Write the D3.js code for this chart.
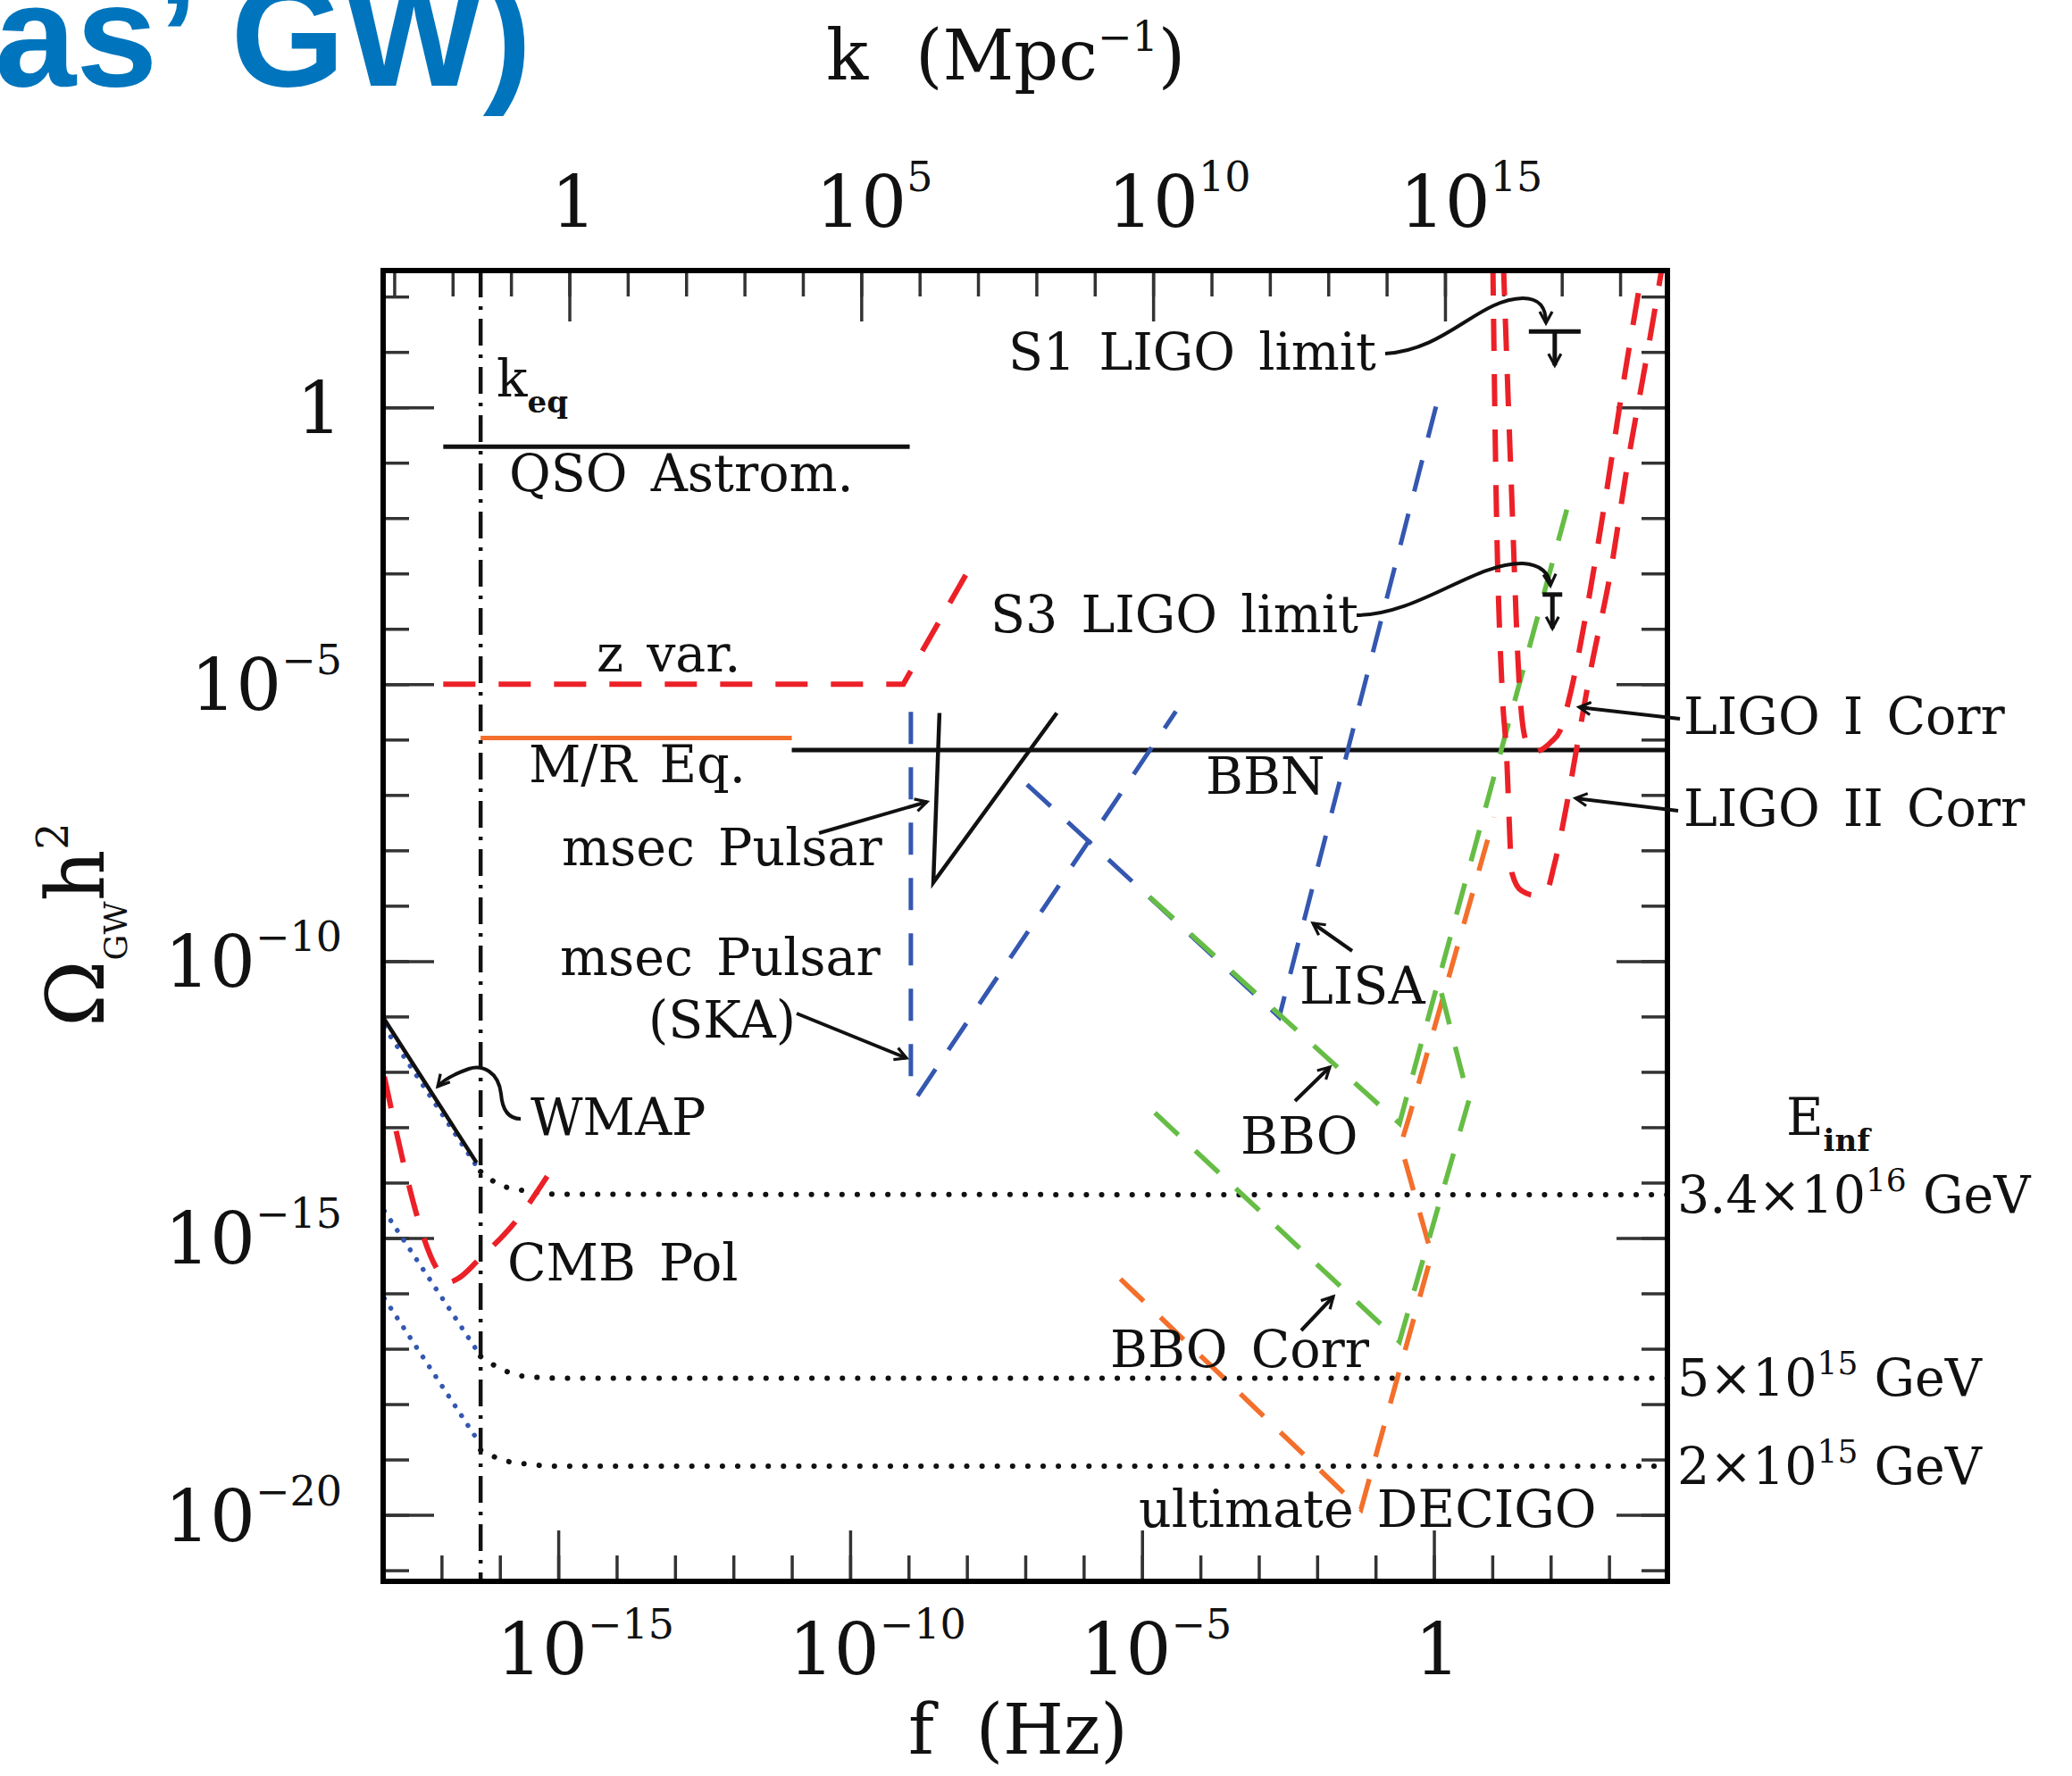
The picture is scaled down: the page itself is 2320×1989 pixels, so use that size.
<!DOCTYPE html>
<html lang="en">
<head>
<meta charset="UTF-8">
<title>Omega_GW h^2 limits</title>
<script src="https://cdn.jsdelivr.net/npm/d3@7"></script>
<style>
  body { margin: 0; padding: 0; background: #fff; }
  svg text { font-family: "DejaVu Serif", serif; fill: #111; }
  .lbl { font-size: 57px; }
  .title { font-family: "Liberation Sans", Arial, sans-serif; font-weight: bold; fill: #0075bd; }
</style>
</head>
<body>
<svg id="chart" width="2320" height="1989"></svg>
<script>
// all values are [log10 f/Hz, log10 Omega_GW h^2]
const fRange = [-18, 4];
const omegaRange = [-21.2, 2.47];
const logKperF = 14.81;          // log10 of k(Mpc^-1) per f(Hz)
const kEq = -16.33;              // log10 f at k_eq

const fLabelExp = [-15, -10, -5, 0];
const kLabelExp = [0, 5, 10, 15];
const omegaLabelExp = [0, -5, -10, -15, -20];

const qsoAstrom = [[-16.97, -0.71], [-8.98, -0.71]];
const zVar = [[-16.97, -5.0], [-9.09, -5.0], [-8.0, -2.99]];
const mrEq = [[-16.33, -5.97], [-11.0, -5.97]];
const bbn = [[-11.0, -6.19], [4, -6.19]];
const msecPulsar = [[-8.47, -5.52], [-8.575, -8.58], [-6.46, -5.52]];
const pulsarSKA = [[-8.96, -5.5], [-8.96, -12.25], [-8.855, -12.45], [-4.42, -5.49]];
const lisa = [[-6.97, -6.81], [-2.65, -11.01], [0.11, 0.32]];
const bbo = [[-4.87, -8.84], [-0.59, -12.93], [2.32, -1.68]];
const bboCorr = [[-4.78, -12.74], [-0.59, -16.87], [0.60, -12.51], [0.08, -10.38]];
const decigo = [[-5.37, -15.74], [-1.25, -19.90], [-0.04, -15.30], [-0.57, -13.32], [-0.42, -12.80], [1.03, -7.40]];
const ligoICorr = [[1.19, 2.6], [1.32, -1.23], [1.47, -5.14], [1.55, -5.92], [1.68, -6.23], [2.01, -6.04],
  [2.16, -5.84], [2.31, -5.29], [2.62, -3.65], [2.93, -1.70], [3.23, 0.34], [3.59, 2.6]];
const ligoIICorr = [[1.01, 2.6], [1.06, -1.23], [1.17, -5.14], [1.24, -6.19], [1.34, -8.42], [1.50, -8.73],
  [1.73, -8.81], [1.93, -8.73], [2.06, -8.27], [2.29, -7.09], [2.44, -6.19], [2.67, -4.83],
  [3.03, -2.95], [3.31, -1.07], [3.64, 0.88], [3.92, 2.6]];
const wmap = [[-17.98, -11.05], [-16.40, -13.64]];
const cmbPol = [[-17.98, -12.09], [-17.04, -15.62], [-16.88, -15.80], [-16.70, -15.72], [-16.38, -15.41],
  [-15.67, -14.62], [-15.13, -13.79]];

// inflation spectra: blue before k_eq, black after
const inflEnergies = ["3.4×10|16", "5×10|15", "2×10|15"];
const inflBlue = [
  [[-17.98, -11.19], [-16.35, -13.78]],
  [[-17.98, -14.51], [-16.35, -17.10]],
  [[-17.98, -16.09], [-16.35, -18.70]]
];
const inflBlack = [
  [[-16.33, -13.80], [-16.0, -14.04], [-15.48, -14.16], [-15.0, -14.21], [4, -14.22]],
  [[-16.33, -17.14], [-15.95, -17.38], [-15.56, -17.50], [-15.0, -17.53], [4, -17.53]],
  [[-16.33, -18.83], [-15.95, -19.01], [-15.56, -19.08], [-15.0, -19.12], [4, -19.12]]
];

const s1Limit = [2.07, 1.37];
const s3Limit = [2.03, -3.38];

const pL = 429, pR = 1867, pT = 303, pB = 1771;
const red = "#ec2027", blue = "#3457b0", green = "#66bd45", orange = "#f36f2b", ink = "#111";

const svg = d3.select("#chart");

const x = d3.scaleLog().domain(fRange.map(v => 10 ** v)).range([pL, pR]);
const k = d3.scaleLog().domain(fRange.map(v => 10 ** (v + logKperF))).range([pL, pR]);
const y = d3.scaleLog().domain(omegaRange.map(v => 10 ** v)).range([pB, pT]);

const line = d3.line().x(d => x(10 ** d[0])).y(d => y(10 ** d[1]));
const smooth = d3.line().curve(d3.curveMonotoneX).x(d => x(10 ** d[0])).y(d => y(10 ** d[1]));

const defs = svg.append("defs");
defs.append("clipPath").attr("id", "plot")
  .append("rect").attr("x", pL).attr("y", pT).attr("width", pR - pL).attr("height", pB - pT);
defs.append("marker").attr("id", "arr")
  .attr("markerUnits", "userSpaceOnUse").attr("markerWidth", 22).attr("markerHeight", 22)
  .attr("refX", 14).attr("refY", 8).attr("orient", "auto").attr("viewBox", "0 0 22 16")
  .append("path").attr("d", "M1,1 L14,8 L1,15").attr("fill", "none").attr("stroke", ink).attr("stroke-width", 3.2);

// title fragment
svg.append("text").attr("class", "title").attr("x", -6).attr("y", 96).attr("font-size", 164).text("as’ GW)");

// ticks
function ticks(gen, vals, len, tr) {
  svg.append("g").attr("transform", tr)
    .call(gen.tickValues(vals).tickSize(-len).tickFormat(""))
    .call(g => g.select(".domain").remove())
    .selectAll("line").attr("stroke", "#333").attr("stroke-width", 3.5);
}
const fDec = d3.range(-17, 4).map(e => 10 ** e);
const kDec = d3.range(-3, 19).map(e => 10 ** e);
const oDec = d3.range(-21, 3).map(e => 10 ** e);
ticks(d3.axisBottom(x), fDec, 29, `translate(0,${pB})`);
ticks(d3.axisBottom(x), fLabelExp.map(e => 10 ** e), 57, `translate(0,${pB})`);
ticks(d3.axisTop(k), kDec, 29, `translate(0,${pT})`);
ticks(d3.axisTop(k), kLabelExp.map(e => 10 ** e), 57, `translate(0,${pT})`);
ticks(d3.axisLeft(y), oDec, 29, `translate(${pL},0)`);
ticks(d3.axisLeft(y), omegaLabelExp.map(e => 10 ** e), 57, `translate(${pL},0)`);
ticks(d3.axisRight(y), oDec, 29, `translate(${pR},0)`);
ticks(d3.axisRight(y), omegaLabelExp.map(e => 10 ** e), 57, `translate(${pR},0)`);

// tick labels
function powLabel(g, e) {
  if (e === 0) { g.text("1"); return; }
  g.append("tspan").text("10");
  g.append("tspan").attr("font-size", 46).attr("dy", -40).text(String(e).replace("-", "−"));
}
omegaLabelExp.forEach(e => {
  const t = svg.append("text").attr("font-size", 80).attr("text-anchor", "end")
    .attr("x", 383).attr("y", y(10 ** e) + 29);
  powLabel(t, e);
});
fLabelExp.forEach(e => {
  const t = svg.append("text").attr("font-size", 80).attr("y", 1875);
  if (e === 0) t.attr("text-anchor", "middle").attr("x", x(1) + 4);
  else t.attr("x", x(10 ** e) - 69);
  powLabel(t, e);
});
kLabelExp.forEach(e => {
  const t = svg.append("text").attr("font-size", 80).attr("y", 254);
  if (e === 0) t.attr("text-anchor", "middle").attr("x", k(1) + 5);
  else t.attr("x", k(10 ** e) - 51);
  powLabel(t, e);
});

// axis titles
const kt = svg.append("text").attr("font-size", 78).attr("x", 925).attr("y", 89).attr("word-spacing", 28);
kt.append("tspan").text("k (Mpc");
kt.append("tspan").attr("font-size", 46).attr("dy", -32).text("−1");
kt.append("tspan").attr("dy", 32).text(")");
svg.append("text").attr("font-size", 78).attr("x", 1017).attr("y", 1964).attr("word-spacing", 22).text("f (Hz)");
const yt = svg.append("text").attr("font-size", 90).attr("transform", "translate(116,1150) rotate(-90)");
yt.append("tspan").text("Ω");
yt.append("tspan").attr("font-size", 36).attr("dy", 26).text("GW");
yt.append("tspan").attr("dy", -26).text("h");
yt.append("tspan").attr("font-size", 48).attr("dy", -40).text("2");

// curves
const plot = svg.append("g").attr("clip-path", "url(#plot)");
function draw(data, color, width, dash, gen) {
  plot.append("path").attr("d", (gen || line)(data)).attr("fill", "none")
    .attr("stroke", color).attr("stroke-width", width)
    .attr("stroke-dasharray", dash || null).attr("stroke-linecap", dash && dash.startsWith("0.1") ? "round" : "butt");
}
// k_eq
plot.append("line").attr("x1", x(10 ** kEq)).attr("x2", x(10 ** kEq)).attr("y1", pT).attr("y2", pB)
  .attr("stroke", ink).attr("stroke-width", 4.5).attr("stroke-dasharray", "30,10,4,10");

inflBlue.forEach(d => draw(d, blue, 5.5, "0.1,13"));
inflBlack.forEach(d => draw(d, ink, 6, "0.1,17", smooth));
draw(wmap, ink, 4.5);
draw(cmbPol, red, 6, "36,26", smooth);
draw(qsoAstrom, ink, 5);
draw(zVar, red, 6, "36,26");
draw(mrEq, orange, 5);
draw(bbn, ink, 5);
draw(msecPulsar, ink, 4.5);
draw(pulsarSKA, blue, 5, "36,26");
draw(lisa, blue, 5, "36,26");
draw(decigo, orange, 5.5, "36,26");
draw(bbo, green, 5.5, "36,26");
draw(bboCorr, green, 5.5, "36,26");
draw(ligoICorr, red, 6, "36,26", smooth);
draw(ligoIICorr, red, 6, "36,26", smooth);

// LIGO limit symbols
[[s1Limit, 29], [s3Limit, 11]].forEach(([p, half]) => {
  const cx = x(10 ** p[0]), cy = y(10 ** p[1]);
  svg.append("line").attr("x1", cx - half).attr("x2", cx + half).attr("y1", cy).attr("y2", cy)
    .attr("stroke", ink).attr("stroke-width", 5);
  svg.append("line").attr("x1", cx).attr("x2", cx).attr("y1", cy).attr("y2", cy + 38)
    .attr("stroke", ink).attr("stroke-width", 5).attr("marker-end", "url(#arr)");
});

// frame
svg.append("rect").attr("x", pL).attr("y", pT).attr("width", pR - pL).attr("height", pB - pT)
  .attr("fill", "none").attr("stroke", "#000").attr("stroke-width", 6);

// annotations
function label(px, py, txt, sub, subDy) {
  const t = svg.append("text").attr("class", "lbl").attr("x", px).attr("y", py).attr("word-spacing", 8);
  t.append("tspan").text(txt);
  if (sub) t.append("tspan").attr("font-size", 34).attr("font-weight", "bold").attr("dy", subDy).text(sub);
  return t;
}
label(556, 444, "k", "eq", 18);
label(570, 550, "QSO Astrom.");
label(668, 752, "z var.");
label(592, 876, "M/R Eq.");
label(629, 969, "msec Pulsar");
label(627, 1092, "msec Pulsar");
label(726, 1162, "(SKA)");
label(594, 1271, "WMAP");
label(568, 1434, "CMB Pol");
label(1129, 414, "S1 LIGO limit");
label(1109, 708, "S3 LIGO limit");
label(1350, 889, "BBN");
label(1455, 1124, "LISA");
label(1389, 1292, "BBO");
label(1243, 1531, "BBO Corr");
label(1275, 1710, "ultimate DECIGO");
label(1885, 822, "LIGO I Corr");
label(1885, 925, "LIGO II Corr");
label(2000, 1271, "E", "inf", 18);

const eLines = inflBlack.map(d => d[d.length - 1][1]);
inflEnergies.forEach((s, i) => {
  const [base, ex] = s.split("|");
  const t = svg.append("text").attr("class", "lbl").attr("x", 1878).attr("y", y(10 ** eLines[i]) + 20);
  t.append("tspan").text(base);
  t.append("tspan").attr("font-size", 36).attr("dy", -24).text(ex);
  t.append("tspan").attr("dy", 24).text(" GeV");
});

const arrows = [
  "M917,933 L1038,898",
  "M892,1135 L1015,1185",
  "M1514,1065 L1470,1034",
  "M1450,1233 L1489,1195",
  "M1457,1490 L1493,1452",
  "M1881,805 L1768,792",
  "M1879,908 L1764,894",
  "M1551,396 C1620,392 1655,335 1705,334 C1725,334 1731,345 1731,362",
  "M1519,689 C1590,688 1650,630 1705,631 C1725,632 1735,642 1736,656",
  "M583,1253 C566,1253 562,1238 561,1225 C558,1200 540,1192 525,1197 C508,1203 496,1210 490,1217"
];
arrows.forEach(d => svg.append("path").attr("d", d).attr("fill", "none")
  .attr("stroke", ink).attr("stroke-width", 4).attr("marker-end", "url(#arr)"));
</script>
</body>
</html>
